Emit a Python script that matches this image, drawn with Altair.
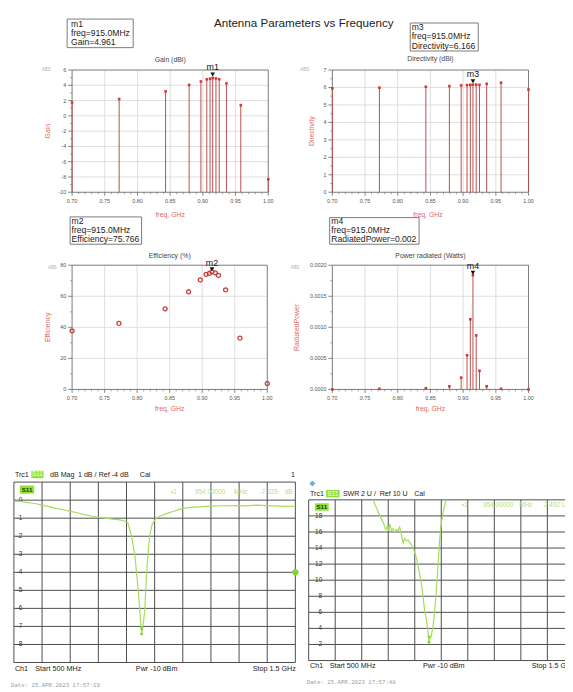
import altair as alt
import pandas as pd

W, H = 565, 684
FONT = "Liberation Sans"
MONO = "Liberation Mono"

# ---------------- ADS simulation results ----------------
freq_ghz = [0.700, 0.772, 0.843, 0.879, 0.897, 0.906, 0.911, 0.915, 0.920, 0.925, 0.936, 0.958, 1.000]
gain_dbi = [1.75, 2.20, 3.20, 4.05, 4.50, 4.78, 4.86, 4.961, 4.90, 4.80, 4.25, 1.40, -8.30]
directivity_dbi = [5.95, 5.99, 6.04, 6.08, 6.12, 6.14, 6.15, 6.166, 6.16, 6.15, 6.21, 6.27, 5.88]
efficiency_pct = [37.7, 42.5, 51.9, 62.9, 70.5, 74.1, 74.7, 75.766, 75.1, 73.4, 64.1, 33.0, 3.8]
radiated_power_w = [0.0, 0.00001, 0.00002, 0.00005, 0.00019, 0.00055, 0.00113, 0.00184,
                    0.00087, 0.00030, 0.00005, 0.00001, 0.0]
marker_freq_ghz = 0.915

# ADS axis ticks and labels
ads_x_major = [0.70, 0.75, 0.80, 0.85, 0.90, 0.95, 1.00]
ads_x_labels = ["0.70", "0.75", "0.80", "0.85", "0.90", "0.95", "1.00"]
ads_x_minor = [0.71, 0.72, 0.73, 0.74, 0.76, 0.77, 0.78, 0.79, 0.81, 0.82, 0.83, 0.84,
               0.86, 0.87, 0.88, 0.89, 0.91, 0.92, 0.93, 0.94, 0.96, 0.97, 0.98, 0.99]
ads_x_grid = [0.75, 0.80, 0.85, 0.90, 0.95]

gain_major = [-10, -8, -6, -4, -2, 0, 2, 4, 6]
gain_labels = ["-10", "-8", "-6", "-4", "-2", "0", "2", "4", "6"]
gain_minor = [-9, -7, -5, -3, -1, 1, 3, 5]
gain_grid = [-8, -6, -4, -2, 0, 2, 4]

dir_major = [0, 1, 2, 3, 4, 5, 6, 7]
dir_labels = ["0", "1", "2", "3", "4", "5", "6", "7"]
dir_minor = [0.5, 1.5, 2.5, 3.5, 4.5, 5.5, 6.5]
dir_grid = [1, 2, 3, 4, 5, 6]

eff_major = [0, 20, 40, 60, 80]
eff_labels = ["0", "20", "40", "60", "80"]
eff_minor = [10, 30, 50, 70]
eff_grid = [20, 40, 60]

pow_major = [0, 0.0005, 0.001, 0.0015, 0.002]
pow_labels = ["0.0000", "0.0005", "0.0010", "0.0015", "0.0020"]
pow_minor = [0.00025, 0.00075, 0.00125, 0.00175]
pow_grid = [0.0005, 0.001, 0.0015]

# ---------------- VNA measurements ----------------
s11_freq_mhz = [500, 515, 530, 545, 560, 580, 600, 625, 650, 675, 700, 725, 750, 775, 800,
                825, 850, 870, 890, 905, 918, 930, 938, 945, 950, 954, 960, 965, 970, 976,
                982, 991, 1005, 1020, 1040, 1070, 1100, 1130, 1160, 1200, 1240, 1280, 1320,
                1360, 1400, 1440, 1470, 1500]
s11_db = [-0.07, -0.05, -0.09, -0.12, -0.16, -0.20, -0.29, -0.36, -0.46, -0.53, -0.62, -0.70,
          -0.80, -0.88, -0.95, -1.00, -1.05, -1.08, -1.14, -1.25, -2.0, -3.1, -4.4, -5.6, -6.7,
          -7.33, -6.8, -6.1, -4.4, -3.1, -2.0, -1.35, -1.0, -0.88, -0.76, -0.60, -0.46, -0.40,
          -0.37, -0.33, -0.31, -0.30, -0.32, -0.28, -0.30, -0.33, -0.35, -0.34]
swr_freq_mhz = [744, 750, 756, 763, 769, 775, 781, 786, 790, 794, 798, 802, 806, 812, 818,
                825, 831, 837, 843, 850, 856, 862, 868, 875, 881, 887, 894, 900, 906, 916,
                925, 931, 937, 944, 950, 954, 958, 962, 969, 975, 981, 987, 994, 1000, 1006,
                1012, 1019]
swr_u = [20.0, 19.4, 19.0, 18.4, 18.0, 17.6, 17.2, 16.7, 16.3, 16.4, 16.9, 16.1, 17.0, 16.2,
         16.4, 16.0, 16.3, 16.1, 16.6, 15.6, 14.6, 15.2, 14.9, 15.0, 14.7, 14.4, 14.1, 13.4,
         12.8, 11.2, 9.6, 8.0, 6.3, 5.1, 3.5, 2.49, 2.7, 3.0, 4.3, 6.1, 8.6, 11.4, 15.1, 17.1,
         18.3, 19.2, 20.0]
vna_marker_mhz = 954
s11_marker_db = -7.329
swr_marker_u = 2.492
s11_ref_db = -4
rs_freq_grid = [500, 600, 700, 800, 900, 1000, 1100, 1200, 1300, 1400, 1500]
s11_grid = [-9, -8, -7, -6, -5, -4, -3, -2, -1, 0, 1]
s11_ticks = [-8, -7, -6, -5, -4, -3, -2, -1, 0]
s11_labels = ["-8", "-7", "-6", "-5", "-4", "-3", "-2", "-1", "0"]
swr_grid = [0, 2, 4, 6, 8, 10, 12, 14, 16, 18, 20]
swr_ticks = [2, 4, 6, 8, 10, 12, 14, 16, 18]
swr_labels = ["2", "4", "6", "8", "10", "12", "14", "16", "18"]

# ---------------- styles ----------------
AXRED = "#e06a66"
STEM = "#b8504c"
PT = "#d03a36"
GRID = "#d6d6d6"
FRAME = "#6a6a6a"
TXT = "#555555"
RSGRID = "#4d4d4d"
GREEN = "#a6dc58"
GREENTXT = "#b3e07a"
BOXGREEN = "#8fe03c"


def txt(t, x, y, size=7.0, color="#222222", align="left", baseline="middle",
        font=FONT, weight="normal", angle=0):
    return alt.Chart(pd.DataFrame({"t": [t]})).mark_text(
        align=align, baseline=baseline, font=font, fontSize=size, color=color,
        fontWeight=weight, angle=angle
    ).encode(x=alt.value(x), y=alt.value(y), text="t:N")


def box(x0, y0, x1, y1, fill="transparent", stroke="#777777", sw=1.0):
    return alt.Chart(pd.DataFrame({"a": [0]})).mark_rect(
        fill=fill, stroke=stroke, strokeWidth=sw
    ).encode(x=alt.value(x0), x2=alt.value(x1), y=alt.value(y0), y2=alt.value(y1))


def ads_panel(values, ydom, xr, yr, ymajor, ylabels, yminor, ygrid, mk_name,
              stems=True, base=None, tri_off=-3.5, lab_dy=-10.5):
    xs = alt.Scale(domain=[0.70, 1.00], range=list(xr), nice=False, zero=False)
    ys = alt.Scale(domain=list(ydom), range=list(yr), nice=False, zero=False)
    X = lambda f: alt.X(f, scale=xs, axis=None)
    Y = lambda f: alt.Y(f, scale=ys, axis=None)

    xg = pd.DataFrame({"g": ads_x_grid, "lo": ydom[0], "hi": ydom[1]})
    yg = pd.DataFrame({"g": ygrid, "lo": 0.70, "hi": 1.00})
    fr = pd.DataFrame({"x0": [0.70], "x1": [1.00], "y0": [ydom[0]], "y1": [ydom[1]]})
    xmaj = pd.DataFrame({"g": ads_x_major, "lab": ads_x_labels, "lo": ydom[0]})
    xmin = pd.DataFrame({"g": ads_x_minor, "lo": ydom[0]})
    ymaj = pd.DataFrame({"g": ymajor, "lab": ylabels, "lo": 0.70})
    ymin = pd.DataFrame({"g": yminor, "lo": 0.70})
    df = pd.DataFrame({"freq": freq_ghz, "val": values,
                       "base": [ydom[0] if base is None else base] * len(freq_ghz)})
    mk = pd.DataFrame({"freq": [marker_freq_ghz],
                       "val": [values[freq_ghz.index(marker_freq_ghz)]], "name": [mk_name]})

    layers = [
        alt.Chart(xg).mark_rule(color=GRID, strokeWidth=0.8).encode(
            x=X("g:Q"), y=Y("lo:Q"), y2="hi:Q"),
        alt.Chart(yg).mark_rule(color=GRID, strokeWidth=0.8).encode(
            x=X("lo:Q"), x2="hi:Q", y=Y("g:Q")),
        alt.Chart(fr).mark_rect(fill="transparent", stroke=FRAME, strokeWidth=0.9).encode(
            x=X("x0:Q"), x2="x1:Q", y=Y("y0:Q"), y2="y1:Q"),
        # x axis ticks & labels
        alt.Chart(xmaj).mark_rule(color="#666666", strokeWidth=0.8, y2Offset=3.5).encode(
            x=X("g:Q"), y=Y("lo:Q"), y2="lo:Q"),
        alt.Chart(xmin).mark_rule(color="#777777", strokeWidth=0.7, y2Offset=2).encode(
            x=X("g:Q"), y=Y("lo:Q"), y2="lo:Q"),
        alt.Chart(xmaj).mark_text(fontSize=5.5, font=FONT, color=TXT, dy=9,
                                  baseline="middle", align="center").encode(
            x=X("g:Q"), y=Y("lo:Q"), text="lab:N"),
        # y axis ticks & labels
        alt.Chart(ymaj).mark_rule(color="#666666", strokeWidth=0.8, x2Offset=-4).encode(
            x=X("lo:Q"), x2="lo:Q", y=Y("g:Q")),
        alt.Chart(ymin).mark_rule(color="#777777", strokeWidth=0.7, x2Offset=-2).encode(
            x=X("lo:Q"), x2="lo:Q", y=Y("g:Q")),
        alt.Chart(ymaj).mark_text(fontSize=5.5, font=FONT, color=TXT, dx=-6,
                                  baseline="middle", align="right").encode(
            x=X("lo:Q"), y=Y("g:Q"), text="lab:N"),
    ]
    if stems:
        layers.append(alt.Chart(df).mark_rule(color=STEM, strokeWidth=1).encode(
            x=X("freq:Q"), y=Y("base:Q"), y2="val:Q"))
        layers.append(alt.Chart(df).mark_square(size=7, color=PT, opacity=1).encode(
            x=X("freq:Q"), y=Y("val:Q")))
    else:
        layers.append(alt.Chart(df).mark_point(shape="circle", filled=False, size=17,
                                               strokeWidth=1.3, color="#c83c3c", opacity=1).encode(
            x=X("freq:Q"), y=Y("val:Q")))
    layers.append(alt.Chart(mk).mark_point(shape="triangle-down", filled=True, size=22,
                                           color="#111111", opacity=1, yOffset=tri_off).encode(
        x=X("freq:Q"), y=Y("val:Q")))
    layers.append(alt.Chart(mk).mark_text(fontSize=9, font=FONT, color="#111111", dy=lab_dy,
                                          baseline="middle").encode(
        x=X("freq:Q"), y=Y("val:Q"), text="name:N"))
    return alt.layer(*layers)


def rs_panel(fx, fy, xr, yr, ydom, ygrid, yticks, ylabels, label_dx, mk_v, ref_val=None):
    xs = alt.Scale(domain=[500, 1500], range=list(xr), nice=False, zero=False)
    ys = alt.Scale(domain=list(ydom), range=list(yr), nice=False, zero=False)
    X = lambda f: alt.X(f, scale=xs, axis=None)
    Y = lambda f: alt.Y(f, scale=ys, axis=None)
    vg = pd.DataFrame({"g": rs_freq_grid, "lo": ydom[0], "hi": ydom[1]})
    hg = pd.DataFrame({"g": ygrid, "lo": 500, "hi": 1500})
    lab = pd.DataFrame({"g": yticks, "lab": ylabels, "lo": 500})
    tr = pd.DataFrame({"f": fx, "v": fy})
    mk = pd.DataFrame({"f": [vna_marker_mhz], "v": [mk_v]})
    layers = [
        alt.Chart(vg).mark_rule(color=RSGRID, strokeWidth=1).encode(
            x=X("g:Q"), y=Y("lo:Q"), y2="hi:Q"),
        alt.Chart(hg).mark_rule(color=RSGRID, strokeWidth=1).encode(
            x=X("lo:Q"), x2="hi:Q", y=Y("g:Q")),
        alt.Chart(lab).mark_text(fontSize=6.5, font=FONT, color="#333333", dx=label_dx,
                                 align="right", baseline="middle").encode(
            x=X("lo:Q"), y=Y("g:Q"), text="lab:N"),
        alt.Chart(tr).mark_line(color=GREEN, strokeWidth=1.2).encode(
            x=X("f:Q"), y=Y("v:Q")),
        alt.Chart(mk).mark_point(shape="triangle-down", filled=True, size=16, color="#86d430",
                                 opacity=1, yOffset=-3).encode(x=X("f:Q"), y=Y("v:Q")),
        alt.Chart(mk).mark_circle(size=10, color="#86d430", opacity=1, yOffset=1.5).encode(
            x=X("f:Q"), y=Y("v:Q")),
    ]
    if ref_val is not None:
        rf = pd.DataFrame({"f": [1500], "v": [ref_val]})
        layers.append(alt.Chart(rf).mark_circle(size=40, color="#86d430", opacity=1).encode(
            x=X("f:Q"), y=Y("v:Q")))
    return alt.layer(*layers)


gain_p = ads_panel(gain_dbi, (-10, 6), (65, 264), (182, 58), gain_major, gain_labels,
                   gain_minor, gain_grid, "m1", tri_off=-3.5, lab_dy=-11)
dir_p = ads_panel(directivity_dbi, (0, 7), (329, 528), (182, 58), dir_major, dir_labels,
                  dir_minor, dir_grid, "m3", base=0, tri_off=-3.5, lab_dy=-10.5)
eff_p = ads_panel(efficiency_pct, (0, 80), (65, 263), (382, 256), eff_major, eff_labels,
                  eff_minor, eff_grid, "m2", stems=False, tri_off=-2.5, lab_dy=-9)
pow_p = ads_panel(radiated_power_w, (0, 0.002), (329, 528), (382, 256), pow_major, pow_labels,
                  pow_minor, pow_grid, "m4", base=0, tri_off=-2.5, lab_dy=-9)

s11_p = rs_panel(s11_freq_mhz, s11_db, (6, 291.5), (659, 476), (-9, 1), s11_grid,
                 s11_ticks, s11_labels, 8.5, s11_marker_db, ref_val=s11_ref_db)
swr_p = rs_panel(swr_freq_mhz, swr_u, (305, 574), (657, 494), (0, 20), swr_grid,
                 swr_ticks, swr_labels, 13.7, swr_marker_u)

notes = [
    # ADS page title, panel titles, axis titles and marker readouts
    txt("Antenna Parameters vs Frequency", 300, 10, size=11.8, color="#222222", align="center"),
    box(60, 6.3, 127, 35.3, stroke="#7a7a7a"),
    txt("m1", 64, 11.3, size=8.7), txt("freq=915.0MHz", 64, 20.5, size=8.7),
    txt("Gain=4.961", 64, 29.3, size=8.7),
    box(408, 10.3, 477, 38.7, stroke="#7a7a7a"),
    txt("m3", 409.5, 14.5, size=8.7), txt("freq=915.0MHz", 409.5, 24, size=8.7),
    txt("Directivity=6.166", 409.5, 33.3, size=8.7),
    box(63, 207, 135.5, 234.7, stroke="#7a7a7a"),
    txt("m2", 64.5, 211.3, size=8.7), txt("freq=915.0MHz", 64.5, 220.3, size=8.7),
    txt("Efficiency=75.766", 64.5, 229.3, size=8.7),
    box(326.3, 207.7, 417, 234.7, stroke="#7a7a7a"),
    txt("m4", 328, 211.5, size=8.7), txt("freq=915.0MHz", 328, 220.3, size=8.7),
    txt("RadiatedPower=0.002", 328, 229.3, size=8.7),
    txt("Gain (dBi)", 164.5, 48, size=7, color="#444444", align="center"),
    txt("Directivity (dBi)", 428.5, 47, size=7, color="#444444", align="center"),
    txt("Efficiency (%)", 164, 246.5, size=7, color="#444444", align="center"),
    txt("Power radiated (Watts)", 428.5, 246.5, size=7, color="#444444", align="center"),
    txt("ABS", 38.7, 57.7, size=4.5, color="#b0b0b0", align="center"),
    txt("ABS", 301, 57.7, size=4.5, color="#b0b0b0", align="center"),
    txt("ABS", 45, 259.3, size=4.5, color="#b0b0b0", align="center"),
    txt("ABS", 291, 259.3, size=4.5, color="#b0b0b0", align="center"),
    txt("Gain", 41, 120, size=7, color=AXRED, align="center", angle=270),
    txt("Directivity", 308.7, 120, size=7, color=AXRED, align="center", angle=270),
    txt("Efficiency", 41, 319, size=7, color=AXRED, align="center", angle=270),
    txt("RadiatedPower", 292.7, 319, size=7, color=AXRED, align="center", angle=270),
    txt("freq, GHz", 164.5, 205.3, size=7, color=AXRED, align="center"),
    txt("freq, GHz", 426, 205.3, size=7, color=AXRED, align="center"),
    txt("freq, GHz", 164, 401.5, size=7, color=AXRED, align="center"),
    txt("freq, GHz", 428.5, 401.5, size=7, color=AXRED, align="center"),
    # VNA left (S11 dB Mag)
    txt("Trc1", 7, 468.5, size=7.2),
    box(23.7, 464.5, 36, 472, fill=BOXGREEN, stroke=BOXGREEN, sw=0),
    txt("S11", 29.8, 468.3, size=6.5, color="#ffffff", align="center"),
    txt("dB Mag", 42.7, 468.5, size=7.2), txt("1 dB /", 71, 468.5, size=7.2),
    txt("Ref -4 dB", 92, 468.5, size=7.2), txt("Cal", 133.7, 468.5, size=7.2),
    txt("1", 291, 468.5, size=7.2, align="right"),
    box(12, 479.5, 26.5, 487.7, fill=BOXGREEN, stroke=BOXGREEN, sw=0),
    txt("S11", 19.3, 483.7, size=6.3, color="#1a3a00", align="center", weight="bold"),
    txt("\u20221", 165, 486.3, size=6.5, color=GREENTXT),
    txt("954.00000", 189.7, 486.3, size=6.5, color=GREENTXT),
    txt("MHz", 229.3, 486.3, size=6.5, color=GREENTXT),
    txt("-7.329", 255.3, 486.3, size=6.5, color=GREENTXT),
    txt("dB", 288.7, 486.3, size=6.5, color=GREENTXT, align="right"),
    txt("Ch1", 7, 665.3, size=7.3), txt("Start 500 MHz", 27.7, 665.3, size=7.3),
    txt("Pwr -10 dBm", 129.7, 665.3, size=7.3),
    txt("Stop 1.5 GHz", 292, 665.3, size=7.3, align="right"),
    txt("Date: 25.APR.2023  17:57:19", 3, 682, size=5.8, color="#9a9a9a", font=MONO),
    # VNA right (S11 SWR)
    alt.Chart(pd.DataFrame({"a": [0]})).mark_point(
        shape="diamond", filled=True, size=38, color="#6fb0e0", opacity=1
    ).encode(x=alt.value(308.7), y=alt.value(477.5)),
    txt("Trc1", 306.3, 487.7, size=7.2),
    box(322.7, 484, 336.3, 491.5, fill=BOXGREEN, stroke=BOXGREEN, sw=0),
    txt("S11", 329.5, 487.8, size=6.5, color="#ffffff", align="center"),
    txt("SWR", 339.7, 487.7, size=7.2), txt("2 U /", 358, 487.7, size=7.2),
    txt("Ref 10 U", 377, 487.7, size=7.2), txt("Cal", 412, 487.7, size=7.2),
    box(311.3, 497.5, 325.3, 505, fill=BOXGREEN, stroke=BOXGREEN, sw=0),
    txt("S11", 318.3, 501.3, size=6.3, color="#1a3a00", align="center", weight="bold"),
    txt("\u20221", 460.3, 499, size=6.5, color=GREENTXT),
    txt("954.00000", 482, 499, size=6.5, color=GREENTXT),
    txt("MHz", 518.7, 499, size=6.5, color=GREENTXT),
    txt("2.492  U", 543.7, 499, size=6.5, color=GREENTXT),
    txt("Ch1", 306.3, 663, size=7.3), txt("Start 500 MHz", 326.3, 663, size=7.3),
    txt("Pwr -10 dBm", 421, 663, size=7.3),
    txt("Stop 1.5 GHz", 531.3, 663, size=7.3),
    txt("Date: 25.APR.2023  17:57:48", 303, 679.3, size=5.8, color="#9a9a9a", font=MONO),
]

chart = alt.layer(gain_p, dir_p, eff_p, pow_p, s11_p, swr_p, *notes).resolve_scale(
    x="independent", y="independent"
).properties(
    width=W, height=H, autosize=alt.AutoSizeParams(type="none"), padding=0,
    background="white",
).configure_view(strokeWidth=0)

chart.save("out.html", embed_options={"renderer": "svg", "actions": False})
